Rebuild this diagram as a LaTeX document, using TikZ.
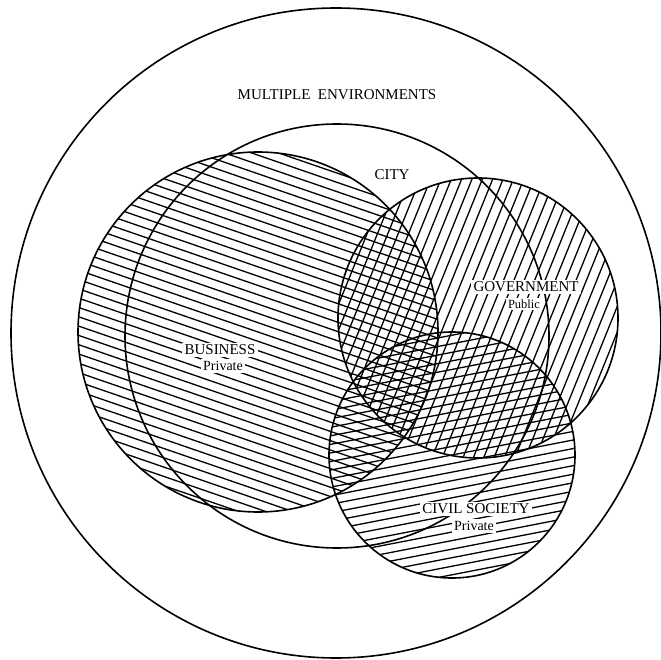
\documentclass[tikz,border=0pt]{standalone}
\usepackage{fontspec}
\setmainfont{Liberation Serif}
\tikzset{
  ring/.style={black,line width=1.6pt},
  hatch/.style={black,line width=1.3pt},
  setname/.style={fill=white,inner sep=2.2pt,font=\fontsize{15}{15}\selectfont},
  setkind/.style={fill=white,inner sep=1.8pt,font=\fontsize{14}{14}\selectfont}
}
\begin{document}
\begin{tikzpicture}[x=1pt,y=-1pt]
\useasboundingbox (0,0) rectangle (661,660);
\coordinate (env) at (336,333);
\coordinate (city) at (337,336);
\coordinate (business) at (258,332);
\coordinate (government) at (478,318);
\coordinate (civil) at (452,455);
% hatching of the three sectors
\begin{scope}
\clip (business) circle[radius=180];
\foreach \k in {-24,...,24}
  \draw[hatch,shift={(business)},rotate=-19] (-200,\k*8.8) -- (200,\k*8.8);
\end{scope}
\begin{scope}
\clip (government) circle[radius=140];
\foreach \k in {-17,...,17}
  \draw[hatch,shift={(government)},rotate=68] (-160,\k*9.6) -- (160,\k*9.6);
\end{scope}
\begin{scope}
\clip (civil) circle[radius=123];
\foreach \k in {-17,...,17}
  \draw[hatch,shift={(civil)},rotate=11] (-140,\k*8.4) -- (140,\k*8.4);
\end{scope}
% outlines
\draw[ring] (env) circle[radius=325];
\draw[ring] (city) circle[radius=212];
\draw[ring] (business) circle[radius=180];
\draw[ring] (government) circle[radius=140];
\draw[ring] (civil) circle[radius=123];
% names
\node[setname] (envname) at (337,95) {MULTIPLE\ \ ENVIRONMENTS};
\node[setname] (cityname) at (392,175) {CITY};
\node[setname] (govname) at (526,287) {GOVERNMENT};
\node[setkind,font=\fontsize{12.5}{12.5}\selectfont] (govkind) at (524,304) {Public};
\node[setname] (busname) at (220,350) {BUSINESS};
\node[setkind] (buskind) at (223,366) {Private};
\node[setname] (civname) at (476,509) {CIVIL SOCIETY};
\node[setkind] (civkind) at (474,526) {Private};
\end{tikzpicture}
\end{document}
